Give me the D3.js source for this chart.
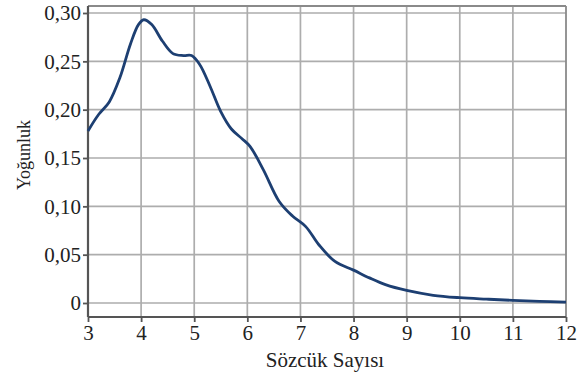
<!DOCTYPE html>
<html><head><meta charset="utf-8">
<script src="https://cdn.jsdelivr.net/npm/d3@7"></script>
<style>body{margin:0;background:#fff}svg{display:block}</style>
</head><body>
<svg id="c" width="587" height="380"></svg>
<script>
const xTicks = [3,4,5,6,7,8,9,10,11,12];
const yTicks = [0,0.05,0.10,0.15,0.20,0.25,0.30];
const yTickLabels = ["0","0,05","0,10","0,15","0,20","0,25","0,30"];
const xLabel = "Sözcük Sayısı";
const yLabel = "Yoğunluk";
const curveX = [3.0,3.2,3.4,3.6,3.8,3.95,4.05,4.2,4.4,4.6,4.8,4.95,5.1,5.3,5.5,5.7,5.9,6.05,6.3,6.6,6.85,7.1,7.35,7.65,8.0,8.3,8.6,9.0,9.5,10.0,10.5,11.0,11.5,12.0];
const curveY = [0.178,0.195,0.208,0.233,0.268,0.288,0.293,0.288,0.271,0.258,0.256,0.256,0.247,0.224,0.198,0.180,0.170,0.162,0.138,0.105,0.090,0.079,0.060,0.043,0.034,0.026,0.019,0.013,0.008,0.0055,0.004,0.0027,0.0017,0.001];

const svg = d3.select("#c");
const L=88, R=566, T=6, B=317;
const x = d3.scaleLinear().domain([3,12]).range([L,R]);
const y = d3.scaleLinear().domain([0,0.30]).range([303,13]);
const font = "'Liberation Serif','Times New Roman',serif";

// grid
svg.append("g").selectAll("line.v").data(xTicks.filter(d=>d>3 && d<12)).join("line")
  .attr("x1",d=>x(d)).attr("x2",d=>x(d)).attr("y1",T).attr("y2",B)
  .attr("stroke","#adadad").attr("stroke-width",1.7);
svg.append("g").selectAll("line.h").data(yTicks).join("line")
  .attr("x1",L).attr("x2",R).attr("y1",d=>y(d)).attr("y2",d=>y(d))
  .attr("stroke","#adadad").attr("stroke-width",1.7);

// frame top/right
svg.append("line").attr("x1",L).attr("x2",R).attr("y1",T).attr("y2",T).attr("stroke","#8a8a8a").attr("stroke-width",1.8);
svg.append("line").attr("x1",R).attr("x2",R).attr("y1",T).attr("y2",B).attr("stroke","#8a8a8a").attr("stroke-width",1.8);

// axes
const yAxis = d3.axisLeft(y).tickValues(yTicks).tickFormat((d,i)=>yTickLabels[i]).tickSize(5).tickPadding(2);
const gy = svg.append("g").attr("transform",`translate(${L},0)`).call(yAxis);
gy.select(".domain").attr("d",`M0,${T}V${B}`);
const xAxis = d3.axisBottom(x).tickValues(xTicks).tickFormat(d=>d).tickSize(5).tickPadding(3);
const gx = svg.append("g").attr("transform",`translate(0,${B})`).call(xAxis);
gx.select(".domain").attr("d",`M${L},0H${R}`);
[gx,gy].forEach(g=>{
  g.select(".domain").attr("stroke","#555").attr("stroke-width",2.2);
  g.selectAll(".tick line").attr("stroke","#555").attr("stroke-width",1.8);
  g.selectAll("text").attr("font-family",font).attr("font-size",21).attr("fill","#222");
});

// curve
const pts = curveX.map((d,i)=>[d,curveY[i]]);
svg.append("path").datum(pts)
  .attr("d", d3.line().x(d=>x(d[0])).y(d=>y(d[1])).curve(d3.curveCatmullRom.alpha(0.5)))
  .attr("fill","none").attr("stroke","#1d3f72").attr("stroke-width",2.8);

// labels
svg.append("text").attr("x",325).attr("y",367).attr("text-anchor","middle")
  .attr("font-family",font).attr("font-size",21).attr("fill","#222").text(xLabel);
svg.append("text").attr("transform","translate(30,155) rotate(-90)").attr("text-anchor","middle")
  .attr("font-family",font).attr("font-size",18).attr("fill","#222").text(yLabel);
</script>
</body></html>
